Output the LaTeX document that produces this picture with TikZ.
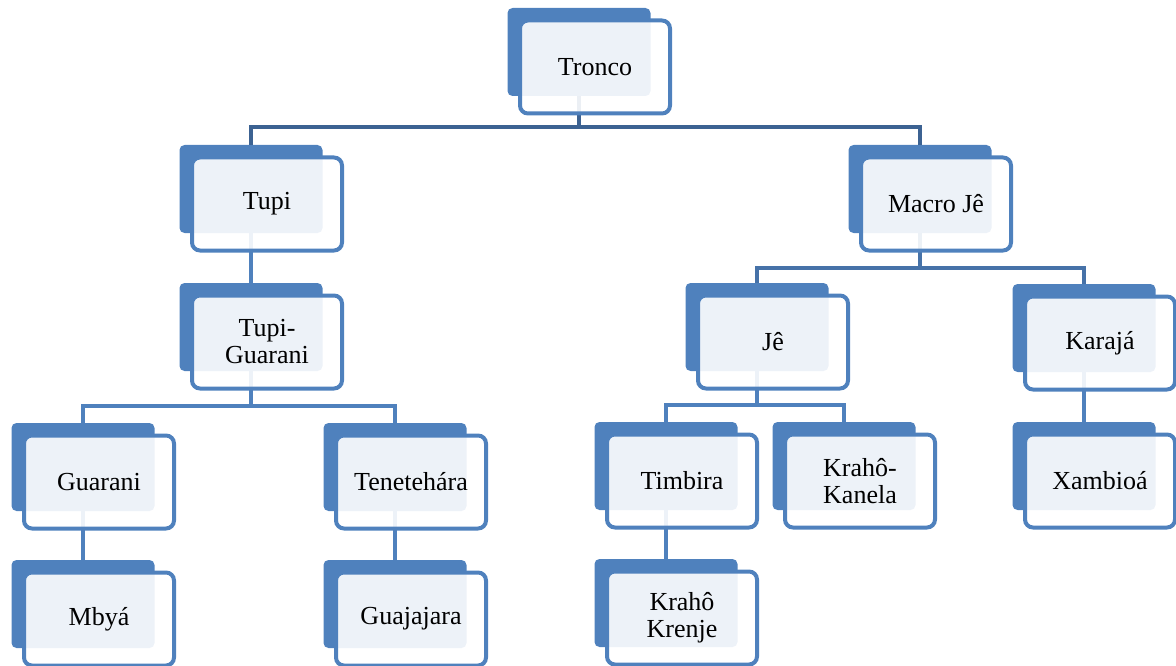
\documentclass[tikz,border=0pt]{standalone}
\usepackage{fontspec}
\setmainfont{Liberation Serif}
\newfontfamily\boxfont{Liberation Serif}
\usetikzlibrary{positioning}
\definecolor{boxblue}{RGB}{79,129,189}
\definecolor{linkdark}{RGB}{60,98,146}
\definecolor{linkmid}{RGB}{70,114,168}
\tikzset{
  backbox/.style = {rectangle, rounded corners = 5pt, fill = boxblue, minimum width = 143pt, minimum height = 88pt, inner sep = 0pt, outer sep = 0pt},
  frontbox/.style = {rectangle, rounded corners = 8pt, draw = boxblue, line width = 4pt, fill = white, fill opacity = 0.9, text opacity = 1, minimum width = 150pt, minimum height = 93pt, align = center, font = \boxfont\fontsize{26}{27}\selectfont, xshift = 16pt, yshift = -15pt},
  link/.style = {draw = boxblue, line width = 4.5pt},
}

\begin{document}
\begin{tikzpicture}[x = 1pt, y = -1pt]
\useasboundingbox (0, 0) rectangle (1176, 666);

% back blocks
\node[backbox] (tronco-b) at (579, 52) {};
\node[backbox] (tupi-b) at (251, 189) {};
\node[backbox] (macro-b) at (920, 189) {};
\node[backbox] (tupig-b) at (251, 327) {};
\node[backbox] (je-b) at (757, 327) {};
\node[backbox] (karaja-b) at (1084, 328) {};
\node[backbox] (guarani-b) at (83, 467) {};
\node[backbox] (tenet-b) at (395, 467) {};
\node[backbox] (timbira-b) at (666, 466) {};
\node[backbox] (kanela-b) at (844, 466) {};
\node[backbox] (xambioa-b) at (1084, 466) {};
\node[backbox] (mbya-b) at (83, 604) {};
\node[backbox] (guaja-b) at (395, 604) {};
\node[backbox] (krenje-b) at (666, 603) {};

% connectors
\draw[link, linkdark] (tronco-b.south) -- ++(0, 31) -| (tupi-b.north);
\draw[link, linkdark] (tronco-b.south) -- ++(0, 31) -| (macro-b.north);
\draw[link] (tupi-b.south) -- (tupig-b.north);
\draw[link, linkmid] (macro-b.south) -- ++(0, 35) -| (je-b.north);
\draw[link, linkmid] (macro-b.south) -- ++(0, 35) -| (karaja-b.north);
\draw[link] (tupig-b.south) -- ++(0, 35) -| (guarani-b.north);
\draw[link] (tupig-b.south) -- ++(0, 35) -| (tenet-b.north);
\draw[link] (je-b.south) -- ++(0, 34) -| (timbira-b.north);
\draw[link] (je-b.south) -- ++(0, 34) -| (kanela-b.north);
\draw[link] (karaja-b.south) -- (xambioa-b.north);
\draw[link] (guarani-b.south) -- (mbya-b.north);
\draw[link] (tenet-b.south) -- (guaja-b.north);
\draw[link] (timbira-b.south) -- (krenje-b.north);

% front blocks with the names
\node[frontbox] (tronco) at (tronco-b) {Tronco};
\node[frontbox] (tupi) at (tupi-b) {Tupi};
\node[frontbox] (macro) at (macro-b) {Macro Jê};
\node[frontbox] (tupig) at (tupig-b) {Tupi-\\Guarani};
\node[frontbox] (je) at (je-b) {Jê};
\node[frontbox] (karaja) at (karaja-b) {Karajá};
\node[frontbox] (guarani) at (guarani-b) {Guarani};
\node[frontbox] (tenet) at (tenet-b) {Tenetehára};
\node[frontbox] (timbira) at (timbira-b) {Timbira};
\node[frontbox] (kanela) at (kanela-b) {Krahô-\\Kanela};
\node[frontbox] (xambioa) at (xambioa-b) {Xambioá};
\node[frontbox] (mbya) at (mbya-b) {Mbyá};
\node[frontbox] (guaja) at (guaja-b) {Guajajara};
\node[frontbox] (krenje) at (krenje-b) {Krahô\\Krenje};
\end{tikzpicture}
\end{document}
